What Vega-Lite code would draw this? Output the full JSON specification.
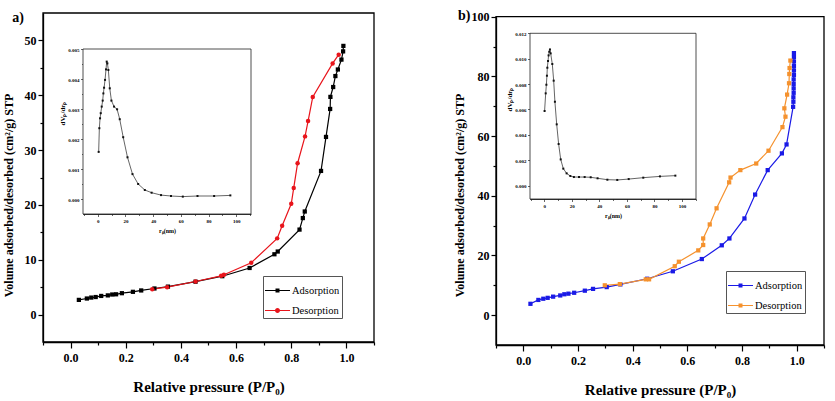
{
  "$schema": "https://vega.github.io/schema/vega-lite/v6.json",
  "width": 835,
  "height": 401,
  "autosize": {"type": "none"},
  "padding": 0,
  "background": "white",
  "config": {
    "view": {"stroke": null},
    "axis": {"grid": false, "domainColor": "black", "tickColor": "black", "labelColor": "black", "titleColor": "black", "labelFont": "Liberation Serif", "titleFont": "Liberation Serif", "labelFontWeight": "bold", "titleFontWeight": "bold", "domainWidth": 1.3, "tickWidth": 1.2, "labelOverlap": false, "labelFlush": false, "zindex": 1},
    "legend": {"labelFont": "Liberation Serif", "labelFontSize": 10.5, "labelFontWeight": "normal", "labelColor": "black", "strokeColor": "#555", "padding": 2, "symbolSize": 625, "labelOffset": 2, "rowPadding": 2}
  },
  "datasets": {
    "isoA": [
      {"p": 0.030, "v": 2.68, "s": "Adsorption", "i": 1},
      {"p": 0.059, "v": 2.93, "s": "Adsorption", "i": 2},
      {"p": 0.075, "v": 3.10, "s": "Adsorption", "i": 3},
      {"p": 0.091, "v": 3.20, "s": "Adsorption", "i": 4},
      {"p": 0.111, "v": 3.40, "s": "Adsorption", "i": 5},
      {"p": 0.135, "v": 3.50, "s": "Adsorption", "i": 6},
      {"p": 0.151, "v": 3.66, "s": "Adsorption", "i": 7},
      {"p": 0.165, "v": 3.70, "s": "Adsorption", "i": 8},
      {"p": 0.186, "v": 3.90, "s": "Adsorption", "i": 9},
      {"p": 0.226, "v": 4.15, "s": "Adsorption", "i": 10},
      {"p": 0.256, "v": 4.40, "s": "Adsorption", "i": 11},
      {"p": 0.304, "v": 4.76, "s": "Adsorption", "i": 12},
      {"p": 0.353, "v": 5.10, "s": "Adsorption", "i": 13},
      {"p": 0.453, "v": 6.00, "s": "Adsorption", "i": 14},
      {"p": 0.550, "v": 7.00, "s": "Adsorption", "i": 15},
      {"p": 0.649, "v": 8.50, "s": "Adsorption", "i": 16},
      {"p": 0.739, "v": 11.0, "s": "Adsorption", "i": 17},
      {"p": 0.751, "v": 11.5, "s": "Adsorption", "i": 18},
      {"p": 0.830, "v": 15.5, "s": "Adsorption", "i": 19},
      {"p": 0.842, "v": 17.6, "s": "Adsorption", "i": 20},
      {"p": 0.849, "v": 18.8, "s": "Adsorption", "i": 21},
      {"p": 0.908, "v": 26.2, "s": "Adsorption", "i": 22},
      {"p": 0.926, "v": 32.4, "s": "Adsorption", "i": 23},
      {"p": 0.941, "v": 37.5, "s": "Adsorption", "i": 24},
      {"p": 0.942, "v": 39.7, "s": "Adsorption", "i": 25},
      {"p": 0.952, "v": 41.5, "s": "Adsorption", "i": 26},
      {"p": 0.960, "v": 43.5, "s": "Adsorption", "i": 27},
      {"p": 0.969, "v": 44.7, "s": "Adsorption", "i": 28},
      {"p": 0.982, "v": 46.5, "s": "Adsorption", "i": 29},
      {"p": 0.988, "v": 48.0, "s": "Adsorption", "i": 30},
      {"p": 0.989, "v": 49.0, "s": "Adsorption", "i": 31},
      {"p": 0.296, "v": 4.63, "s": "Desorption", "i": 1},
      {"p": 0.350, "v": 5.00, "s": "Desorption", "i": 2},
      {"p": 0.453, "v": 6.04, "s": "Desorption", "i": 3},
      {"p": 0.546, "v": 7.07, "s": "Desorption", "i": 4},
      {"p": 0.556, "v": 7.26, "s": "Desorption", "i": 5},
      {"p": 0.655, "v": 9.45, "s": "Desorption", "i": 6},
      {"p": 0.749, "v": 13.9, "s": "Desorption", "i": 7},
      {"p": 0.767, "v": 16.2, "s": "Desorption", "i": 8},
      {"p": 0.800, "v": 20.2, "s": "Desorption", "i": 9},
      {"p": 0.809, "v": 23.1, "s": "Desorption", "i": 10},
      {"p": 0.823, "v": 27.6, "s": "Desorption", "i": 11},
      {"p": 0.850, "v": 32.5, "s": "Desorption", "i": 12},
      {"p": 0.861, "v": 35.3, "s": "Desorption", "i": 13},
      {"p": 0.878, "v": 39.7, "s": "Desorption", "i": 14},
      {"p": 0.950, "v": 45.8, "s": "Desorption", "i": 15},
      {"p": 0.972, "v": 47.4, "s": "Desorption", "i": 16}
    ],
    "poreA": [
      {"r": 0.7, "d": 0.00157}, {"r": 1.2, "d": 0.00236}, {"r": 1.7, "d": 0.00269}, {"r": 2.2, "d": 0.00286},
      {"r": 2.9, "d": 0.00308}, {"r": 3.6, "d": 0.00328}, {"r": 4.1, "d": 0.00352}, {"r": 4.6, "d": 0.00371},
      {"r": 5.3, "d": 0.00397}, {"r": 6.0, "d": 0.00432}, {"r": 6.5, "d": 0.00458}, {"r": 7.0, "d": 0.00452},
      {"r": 7.7, "d": 0.00430}, {"r": 8.7, "d": 0.00369}, {"r": 9.9, "d": 0.00328}, {"r": 11.8, "d": 0.00308},
      {"r": 14.0, "d": 0.00299}, {"r": 15.9, "d": 0.00266}, {"r": 18.4, "d": 0.00206}, {"r": 21.5, "d": 0.00139},
      {"r": 25.1, "d": 0.00083}, {"r": 29.2, "d": 0.00050}, {"r": 34.0, "d": 0.00030}, {"r": 38.9, "d": 0.00021},
      {"r": 45.7, "d": 0.00013}, {"r": 52.9, "d": 0.00010}, {"r": 61.4, "d": 0.00008}, {"r": 72.0, "d": 0.00010},
      {"r": 84.0, "d": 0.00010}, {"r": 95.7, "d": 0.00012}
    ],
    "isoB": [
      {"p": 0.026, "v": 3.8, "s": "Adsorption", "i": 1},
      {"p": 0.055, "v": 5.1, "s": "Adsorption", "i": 2},
      {"p": 0.073, "v": 5.5, "s": "Adsorption", "i": 3},
      {"p": 0.089, "v": 5.8, "s": "Adsorption", "i": 4},
      {"p": 0.109, "v": 6.2, "s": "Adsorption", "i": 5},
      {"p": 0.135, "v": 6.6, "s": "Adsorption", "i": 6},
      {"p": 0.150, "v": 7.0, "s": "Adsorption", "i": 7},
      {"p": 0.165, "v": 7.2, "s": "Adsorption", "i": 8},
      {"p": 0.186, "v": 7.5, "s": "Adsorption", "i": 9},
      {"p": 0.225, "v": 8.2, "s": "Adsorption", "i": 10},
      {"p": 0.255, "v": 8.8, "s": "Adsorption", "i": 11},
      {"p": 0.305, "v": 9.4, "s": "Adsorption", "i": 12},
      {"p": 0.355, "v": 10.3, "s": "Adsorption", "i": 13},
      {"p": 0.453, "v": 12.2, "s": "Adsorption", "i": 14},
      {"p": 0.547, "v": 14.7, "s": "Adsorption", "i": 15},
      {"p": 0.653, "v": 18.8, "s": "Adsorption", "i": 16},
      {"p": 0.726, "v": 23.4, "s": "Adsorption", "i": 17},
      {"p": 0.754, "v": 25.7, "s": "Adsorption", "i": 18},
      {"p": 0.809, "v": 32.4, "s": "Adsorption", "i": 19},
      {"p": 0.848, "v": 40.4, "s": "Adsorption", "i": 20},
      {"p": 0.894, "v": 48.6, "s": "Adsorption", "i": 21},
      {"p": 0.946, "v": 54.2, "s": "Adsorption", "i": 22},
      {"p": 0.963, "v": 57.2, "s": "Adsorption", "i": 23},
      {"p": 0.987, "v": 69.8, "s": "Adsorption", "i": 24},
      {"p": 0.988, "v": 71.5, "s": "Adsorption", "i": 25},
      {"p": 0.988, "v": 73.0, "s": "Adsorption", "i": 26},
      {"p": 0.989, "v": 74.5, "s": "Adsorption", "i": 27},
      {"p": 0.989, "v": 76.0, "s": "Adsorption", "i": 28},
      {"p": 0.989, "v": 77.5, "s": "Adsorption", "i": 29},
      {"p": 0.989, "v": 79.0, "s": "Adsorption", "i": 30},
      {"p": 0.990, "v": 80.5, "s": "Adsorption", "i": 31},
      {"p": 0.990, "v": 82.0, "s": "Adsorption", "i": 32},
      {"p": 0.990, "v": 83.5, "s": "Adsorption", "i": 33},
      {"p": 0.990, "v": 85.0, "s": "Adsorption", "i": 34},
      {"p": 0.990, "v": 86.5, "s": "Adsorption", "i": 35},
      {"p": 0.990, "v": 87.8, "s": "Adsorption", "i": 36},
      {"p": 0.298, "v": 10.0, "s": "Desorption", "i": 1},
      {"p": 0.353, "v": 10.4, "s": "Desorption", "i": 2},
      {"p": 0.448, "v": 12.0, "s": "Desorption", "i": 3},
      {"p": 0.460, "v": 12.0, "s": "Desorption", "i": 4},
      {"p": 0.554, "v": 16.4, "s": "Desorption", "i": 5},
      {"p": 0.569, "v": 17.9, "s": "Desorption", "i": 6},
      {"p": 0.640, "v": 21.7, "s": "Desorption", "i": 7},
      {"p": 0.658, "v": 23.5, "s": "Desorption", "i": 8},
      {"p": 0.658, "v": 25.7, "s": "Desorption", "i": 9},
      {"p": 0.682, "v": 30.4, "s": "Desorption", "i": 10},
      {"p": 0.707, "v": 35.8, "s": "Desorption", "i": 11},
      {"p": 0.753, "v": 44.5, "s": "Desorption", "i": 12},
      {"p": 0.758, "v": 46.1, "s": "Desorption", "i": 13},
      {"p": 0.794, "v": 48.6, "s": "Desorption", "i": 14},
      {"p": 0.852, "v": 50.8, "s": "Desorption", "i": 15},
      {"p": 0.897, "v": 55.1, "s": "Desorption", "i": 16},
      {"p": 0.948, "v": 63.0, "s": "Desorption", "i": 17},
      {"p": 0.959, "v": 66.5, "s": "Desorption", "i": 18},
      {"p": 0.955, "v": 69.3, "s": "Desorption", "i": 19},
      {"p": 0.965, "v": 73.9, "s": "Desorption", "i": 20},
      {"p": 0.972, "v": 77.7, "s": "Desorption", "i": 21},
      {"p": 0.973, "v": 80.8, "s": "Desorption", "i": 22},
      {"p": 0.974, "v": 82.8, "s": "Desorption", "i": 23},
      {"p": 0.977, "v": 85.3, "s": "Desorption", "i": 24}
    ],
    "poreB": [
      {"r": 0.2, "d": 0.00588}, {"r": 1.0, "d": 0.00727}, {"r": 1.5, "d": 0.00795}, {"r": 1.9, "d": 0.00866},
      {"r": 2.2, "d": 0.00929}, {"r": 2.7, "d": 0.00982}, {"r": 3.1, "d": 0.01026}, {"r": 3.6, "d": 0.01055},
      {"r": 4.1, "d": 0.01073}, {"r": 4.6, "d": 0.01042}, {"r": 5.8, "d": 0.00958}, {"r": 6.8, "d": 0.00827},
      {"r": 7.7, "d": 0.00661}, {"r": 9.0, "d": 0.00483}, {"r": 10.4, "d": 0.00328}, {"r": 11.9, "d": 0.00207},
      {"r": 13.8, "d": 0.00134}, {"r": 16.2, "d": 0.00097}, {"r": 18.9, "d": 0.00076}, {"r": 21.5, "d": 0.00068},
      {"r": 25.2, "d": 0.00068}, {"r": 29.3, "d": 0.00068}, {"r": 33.7, "d": 0.00066}, {"r": 38.7, "d": 0.00058},
      {"r": 45.8, "d": 0.00047}, {"r": 53.0, "d": 0.00045}, {"r": 61.3, "d": 0.00052}, {"r": 71.9, "d": 0.00063},
      {"r": 84.0, "d": 0.00073}, {"r": 95.2, "d": 0.00079}
    ]
  },
  "layer": [
    {
      "layer": [
        {
          "data": {"values": [{}]},
          "mark": {"type": "rect", "fill": "transparent", "stroke": "black", "strokeWidth": 1.3},
          "encoding": {
            "x": {"datum": -0.1, "type": "quantitative", "scale": {"domain": [-0.1, 1.1], "range": [43, 374], "nice": false, "zero": false},
              "axis": {"orient": "bottom", "offset": -59, "title": "Relative pressure  (P/P₀)", "values": [-0.1, 0, 0.1, 0.2, 0.3, 0.4, 0.5, 0.6, 0.7, 0.8, 0.9, 1, 1.1],
                "labelExpr": "round(datum.value*10)%2==0 ? format(datum.value,'.1f') : ''",
                "tickSize": {"condition": {"test": "round(datum.value*10)%2==0", "value": 6}, "value": 3},
                "labelFontSize": 12, "labelPadding": 4, "titleFontSize": 15, "titlePadding": 16}},
            "x2": {"datum": 1.1},
            "y": {"datum": -5, "type": "quantitative", "scale": {"domain": [-5, 55], "range": [342, 13], "nice": false, "zero": false},
              "axis": {"orient": "left", "offset": -43, "title": "Volume adsorbed/desorbed (cm²/g) STP", "values": [0, 5, 10, 15, 20, 25, 30, 35, 40, 45, 50],
                "labelExpr": "datum.value%10==0 ? datum.label : ''",
                "tickSize": 5,
                "tickDash": {"condition": {"test": "datum.value%10!=0", "value": [3, 20]}, "value": [10, 0]},
                "labelFontSize": 12, "labelPadding": 2, "titleFontSize": 12, "titlePadding": 9, "titleY": 195}},
            "y2": {"datum": 55}
          }
        },
        {
          "data": {"values": [{}]},
          "mark": {"type": "text", "font": "Liberation Serif", "fontWeight": "bold", "fontSize": 14, "color": "black"},
          "encoding": {
            "x": {"datum": -0.19, "type": "quantitative", "scale": {"domain": [-0.1, 1.1], "range": [43, 374], "nice": false, "zero": false}},
            "y": {"datum": 54, "type": "quantitative", "scale": {"domain": [-5, 55], "range": [342, 13], "nice": false, "zero": false}},
            "text": {"value": "a)"}
          }
        },
        {
          "data": {"name": "isoA"},
          "mark": {"type": "line", "strokeWidth": 1.2},
          "encoding": {
            "x": {"field": "p", "type": "quantitative", "scale": {"domain": [-0.1, 1.1], "range": [43, 374], "nice": false, "zero": false}},
            "y": {"field": "v", "type": "quantitative", "scale": {"domain": [-5, 55], "range": [342, 13], "nice": false, "zero": false}},
            "color": {"field": "s", "type": "nominal", "scale": {"domain": ["Adsorption", "Desorption"], "range": ["black", "#e8141b"]},
              "legend": {"orient": "none", "legendX": 263, "legendY": 276, "title": null,
                "encode": {"symbols": {"update": {
                  "shape": {"signal": "datum.value == 'Adsorption' ? 'M-1,-0.04L1,-0.04L1,0.04L-1,0.04Z M-0.16,-0.16L0.16,-0.16L0.16,0.16L-0.16,0.16Z' : 'M-1,-0.04L1,-0.04L1,0.04L-1,0.04Z M0.2,0A0.2,0.2,0,1,1,-0.2,0A0.2,0.2,0,1,1,0.2,0Z'"},
                  "fill": {"signal": "datum.value == 'Adsorption' ? 'black' : '#e8141b'"},
                  "fillOpacity": {"value": 1},
                  "stroke": {"value": "transparent"},
                  "strokeWidth": {"value": 0},
                  "opacity": {"value": 1}
                }}}}},
            "order": {"field": "i"}
          }
        },
        {
          "data": {"name": "isoA"},
          "transform": [{"filter": "datum.s == 'Adsorption'"}],
          "mark": {"type": "point", "shape": "square", "filled": true, "opacity": 1, "size": 18},
          "encoding": {
            "x": {"field": "p", "type": "quantitative", "scale": {"domain": [-0.1, 1.1], "range": [43, 374], "nice": false, "zero": false}},
            "y": {"field": "v", "type": "quantitative", "scale": {"domain": [-5, 55], "range": [342, 13], "nice": false, "zero": false}},
            "color": {"field": "s", "type": "nominal", "scale": {"domain": ["Adsorption", "Desorption"], "range": ["black", "#e8141b"]}}
          }
        },
        {
          "data": {"name": "isoA"},
          "transform": [{"filter": "datum.s == 'Desorption'"}],
          "mark": {"type": "point", "shape": "circle", "filled": true, "opacity": 1, "size": 20},
          "encoding": {
            "x": {"field": "p", "type": "quantitative", "scale": {"domain": [-0.1, 1.1], "range": [43, 374], "nice": false, "zero": false}},
            "y": {"field": "v", "type": "quantitative", "scale": {"domain": [-5, 55], "range": [342, 13], "nice": false, "zero": false}},
            "color": {"field": "s", "type": "nominal", "scale": {"domain": ["Adsorption", "Desorption"], "range": ["black", "#e8141b"]}}
          }
        }
      ]
    },
    {
      "layer": [
        {
          "data": {"values": [{}]},
          "mark": {"type": "rect", "fill": "white", "stroke": "#222", "strokeWidth": 0.8},
          "encoding": {
            "x": {"datum": -10.6, "type": "quantitative", "scale": {"domain": [-10.6, 110.6], "range": [83, 251], "nice": false, "zero": false},
              "axis": {"orient": "bottom", "offset": -187, "title": "rₚ(nm)", "values": [-10, 0, 10, 20, 30, 40, 50, 60, 70, 80, 90, 100, 110],
                "labelExpr": "datum.value%20==0 ? datum.label : ''",
                "tickSize": {"condition": {"test": "datum.value%20==0", "value": 2.5}, "value": 1.5},
                "labelFontSize": 5, "labelPadding": 2, "titleFontSize": 6, "titlePadding": 4, "domainWidth": 0.8, "tickWidth": 0.6}},
            "x2": {"datum": 110.6},
            "y": {"datum": -0.0005, "type": "quantitative", "scale": {"domain": [-0.0005, 0.005], "range": [214, 49], "nice": false, "zero": false},
              "axis": {"orient": "left", "offset": -83, "title": "dVₚ/drₚ", "values": [0, 0.0005, 0.001, 0.0015, 0.002, 0.0025, 0.003, 0.0035, 0.004, 0.0045, 0.005],
                "labelExpr": "abs(datum.value*1000-round(datum.value*1000))<0.0001 ? format(datum.value,'.3f') : ''",
                "tickSize": 2.5,
                "tickDash": {"condition": {"test": "abs(datum.value*1000-round(datum.value*1000))>0.0001", "value": [1.5, 10]}, "value": [10, 0]},
                "labelFontSize": 5, "labelPadding": 1.5, "titleFontSize": 7, "titlePadding": 2, "titleY": 113, "domainWidth": 0.8, "tickWidth": 0.6}},
            "y2": {"datum": 0.005}
          }
        },
        {
          "data": {"name": "poreA"},
          "mark": {"type": "line", "color": "#222", "strokeWidth": 0.7},
          "encoding": {
            "x": {"field": "r", "type": "quantitative", "scale": {"domain": [-10.6, 110.6], "range": [83, 251], "nice": false, "zero": false}},
            "y": {"field": "d", "type": "quantitative", "scale": {"domain": [-0.0005, 0.005], "range": [214, 49], "nice": false, "zero": false}}
          }
        },
        {
          "data": {"name": "poreA"},
          "mark": {"type": "point", "shape": "square", "filled": true, "color": "#111", "size": 4, "opacity": 1},
          "encoding": {
            "x": {"field": "r", "type": "quantitative", "scale": {"domain": [-10.6, 110.6], "range": [83, 251], "nice": false, "zero": false}},
            "y": {"field": "d", "type": "quantitative", "scale": {"domain": [-0.0005, 0.005], "range": [214, 49], "nice": false, "zero": false}}
          }
        }
      ]
    },
    {
      "layer": [
        {
          "data": {"values": [{}]},
          "mark": {"type": "rect", "fill": "transparent", "stroke": "black", "strokeWidth": 1.3},
          "encoding": {
            "x": {"datum": -0.1, "type": "quantitative", "scale": {"domain": [-0.1, 1.1], "range": [496, 824], "nice": false, "zero": false},
              "axis": {"orient": "bottom", "offset": -56, "title": "Relative pressure  (P/P₀)", "values": [-0.1, 0, 0.1, 0.2, 0.3, 0.4, 0.5, 0.6, 0.7, 0.8, 0.9, 1, 1.1],
                "labelExpr": "round(datum.value*10)%2==0 ? format(datum.value,'.1f') : ''",
                "tickSize": {"condition": {"test": "round(datum.value*10)%2==0", "value": 6}, "value": 3},
                "labelFontSize": 12, "labelPadding": 4, "titleFontSize": 15, "titlePadding": 16}},
            "x2": {"datum": 1.1},
            "y": {"datum": -10, "type": "quantitative", "scale": {"domain": [-10, 100], "range": [345, 16.7], "nice": false, "zero": false},
              "axis": {"orient": "left", "offset": -496, "title": "Volume adsorbed/desorbed (cm²/g) STP", "values": [0, 10, 20, 30, 40, 50, 60, 70, 80, 90, 100],
                "labelExpr": "datum.value%20==0 ? datum.label : ''",
                "tickSize": 5,
                "tickDash": {"condition": {"test": "datum.value%20!=0", "value": [3, 20]}, "value": [10, 0]},
                "labelFontSize": 12, "labelPadding": 2, "titleFontSize": 12, "titlePadding": 5, "titleY": 195}},
            "y2": {"datum": 100}
          }
        },
        {
          "data": {"values": [{}]},
          "mark": {"type": "text", "font": "Liberation Serif", "fontWeight": "bold", "fontSize": 14, "color": "black"},
          "encoding": {
            "x": {"datum": -0.216, "type": "quantitative", "scale": {"domain": [-0.1, 1.1], "range": [496, 824], "nice": false, "zero": false}},
            "y": {"datum": 100.2, "type": "quantitative", "scale": {"domain": [-10, 100], "range": [345, 16.7], "nice": false, "zero": false}},
            "text": {"value": "b)"}
          }
        },
        {
          "data": {"name": "isoB"},
          "mark": {"type": "line", "strokeWidth": 1.2},
          "encoding": {
            "x": {"field": "p", "type": "quantitative", "scale": {"domain": [-0.1, 1.1], "range": [496, 824], "nice": false, "zero": false}},
            "y": {"field": "v", "type": "quantitative", "scale": {"domain": [-10, 100], "range": [345, 16.7], "nice": false, "zero": false}},
            "color": {"field": "s", "type": "nominal", "scale": {"domain": ["Adsorption", "Desorption"], "range": ["#1a1ae6", "#f5922e"]},
              "legend": {"orient": "none", "legendX": 726, "legendY": 271, "title": null,
                "encode": {"symbols": {"update": {
                  "shape": {"value": "M-1,-0.04L1,-0.04L1,0.04L-1,0.04Z M-0.16,-0.16L0.16,-0.16L0.16,0.16L-0.16,0.16Z"},
                  "fill": {"signal": "datum.value == 'Adsorption' ? '#1a1ae6' : '#f5922e'"},
                  "fillOpacity": {"value": 1},
                  "stroke": {"value": "transparent"},
                  "strokeWidth": {"value": 0},
                  "opacity": {"value": 1}
                }}}}},
            "order": {"field": "i"}
          }
        },
        {
          "data": {"name": "isoB"},
          "mark": {"type": "point", "shape": "square", "filled": true, "opacity": 1, "size": 18},
          "encoding": {
            "x": {"field": "p", "type": "quantitative", "scale": {"domain": [-0.1, 1.1], "range": [496, 824], "nice": false, "zero": false}},
            "y": {"field": "v", "type": "quantitative", "scale": {"domain": [-10, 100], "range": [345, 16.7], "nice": false, "zero": false}},
            "color": {"field": "s", "type": "nominal", "scale": {"domain": ["Adsorption", "Desorption"], "range": ["#1a1ae6", "#f5922e"]}}
          }
        }
      ]
    },
    {
      "layer": [
        {
          "data": {"values": [{}]},
          "mark": {"type": "rect", "fill": "white", "stroke": "#222", "strokeWidth": 0.8},
          "encoding": {
            "x": {"datum": -10.4, "type": "quantitative", "scale": {"domain": [-10.4, 110.2], "range": [530, 696], "nice": false, "zero": false},
              "axis": {"orient": "bottom", "offset": -202, "title": "rₚ(nm)", "values": [-10, 0, 10, 20, 30, 40, 50, 60, 70, 80, 90, 100, 110],
                "labelExpr": "datum.value%20==0 ? datum.label : ''",
                "tickSize": {"condition": {"test": "datum.value%20==0", "value": 2.5}, "value": 1.5},
                "labelFontSize": 5, "labelPadding": 2, "titleFontSize": 6, "titlePadding": 4, "domainWidth": 0.8, "tickWidth": 0.6}},
            "x2": {"datum": 110.2},
            "y": {"datum": -0.00105, "type": "quantitative", "scale": {"domain": [-0.00105, 0.012], "range": [199, 33.3], "nice": false, "zero": false},
              "axis": {"orient": "left", "offset": -530, "title": "dVₚ/drₚ", "values": [0, 0.001, 0.002, 0.003, 0.004, 0.005, 0.006, 0.007, 0.008, 0.009, 0.010, 0.011, 0.012],
                "labelExpr": "round(datum.value*1000)%2==0 ? format(datum.value,'.3f') : ''",
                "tickSize": 2.5,
                "tickDash": {"condition": {"test": "round(datum.value*1000)%2!=0", "value": [1.5, 10]}, "value": [10, 0]},
                "labelFontSize": 5, "labelPadding": 1.5, "titleFontSize": 7, "titlePadding": 2, "titleY": 99, "domainWidth": 0.8, "tickWidth": 0.6}},
            "y2": {"datum": 0.012}
          }
        },
        {
          "data": {"name": "poreB"},
          "mark": {"type": "line", "color": "#222", "strokeWidth": 0.7},
          "encoding": {
            "x": {"field": "r", "type": "quantitative", "scale": {"domain": [-10.4, 110.2], "range": [530, 696], "nice": false, "zero": false}},
            "y": {"field": "d", "type": "quantitative", "scale": {"domain": [-0.00105, 0.012], "range": [199, 33.3], "nice": false, "zero": false}}
          }
        },
        {
          "data": {"name": "poreB"},
          "mark": {"type": "point", "shape": "square", "filled": true, "color": "#111", "size": 4, "opacity": 1},
          "encoding": {
            "x": {"field": "r", "type": "quantitative", "scale": {"domain": [-10.4, 110.2], "range": [530, 696], "nice": false, "zero": false}},
            "y": {"field": "d", "type": "quantitative", "scale": {"domain": [-0.00105, 0.012], "range": [199, 33.3], "nice": false, "zero": false}}
          }
        }
      ]
    }
  ],
  "resolve": {
    "scale": {"x": "independent", "y": "independent", "color": "independent"},
    "axis": {"x": "independent", "y": "independent"},
    "legend": {"color": "independent"}
  }
}
